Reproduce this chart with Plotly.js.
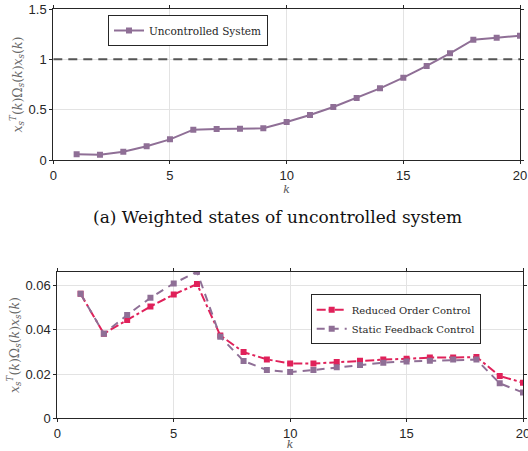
<!DOCTYPE html>
<html><head><meta charset="utf-8">
<script src="https://cdn.plot.ly/plotly-3.0.1.min.js"></script>
<style>html,body{margin:0;padding:0;background:#fff}#chart{width:528px;height:451px}</style>
</head><body><div id="chart"></div>
<script>
const k = [1,2,3,4,5,6,7,8,9,10,11,12,13,14,15,16,17,18,19,20];
const uncontrolled = [0.056,0.053,0.083,0.136,0.205,0.301,0.308,0.311,0.315,0.377,0.447,0.526,0.616,0.712,0.818,0.934,1.060,1.195,1.215,1.235];
const thresholdK = [0,20];
const thresholdV = [1,1];
const reducedOrder = [0.0562,0.0382,0.0444,0.0505,0.0559,0.0606,0.0374,0.0299,0.0266,0.0248,0.0247,0.0254,0.0260,0.0265,0.0269,0.0274,0.0274,0.0277,0.0191,0.0161];
const staticFeedback = [0.0562,0.0382,0.0466,0.0544,0.0609,0.0662,0.0368,0.0259,0.0218,0.0209,0.0218,0.0230,0.0241,0.0251,0.0257,0.0260,0.0265,0.0265,0.0158,0.0116];
const topTicks = [0,0.5,1,1.5];
const bottomTicks = [0,0.02,0.04,0.06];
const xTicks = [0,5,10,15,20];

const purple = '#8f6f96';
const red = '#e0215a';
const serif = 'DejaVu Serif';
const sans = 'Liberation Sans';
const ytitle = '<i>x</i><sub><i>s</i></sub><sup><i>T</i></sup>(<i>k</i>)Ω<sub><i>s</i></sub>(<i>k</i>)<i>x</i><sub><i>s</i></sub>(<i>k</i>)';

const W = 528, H = 451;
const px = v => v / W, py = v => 1 - v / H;

const traces = [
  {x: thresholdK, y: thresholdV, mode: 'lines', line: {color: '#555555', width: 2, dash: '9px,6px'}, showlegend: false, xaxis: 'x', yaxis: 'y', hoverinfo: 'skip'},
  {x: k, y: uncontrolled, name: 'Uncontrolled System', mode: 'lines+markers', line: {color: purple, width: 2}, marker: {symbol: 'square', size: 6, color: purple}, xaxis: 'x', yaxis: 'y', legend: 'legend'},
  {x: k, y: reducedOrder, name: 'Reduced Order Control', mode: 'lines+markers', line: {color: red, width: 2, dash: 'dashdot'}, marker: {symbol: 'square', size: 6, color: red}, xaxis: 'x2', yaxis: 'y2', legend: 'legend2'},
  {x: k, y: staticFeedback, name: 'Static Feedback Control', mode: 'lines+markers', line: {color: purple, width: 2, dash: '8px,6px'}, marker: {symbol: 'square', size: 6, color: purple}, xaxis: 'x2', yaxis: 'y2', legend: 'legend2'}
];

const axCommon = {
  showline: true, linecolor: '#262626', linewidth: 1, mirror: 'ticks',
  ticks: 'outside', ticklen: 3, tickcolor: '#262626',
  showgrid: true, gridcolor: '#e3e3e3', gridwidth: 1, zeroline: false,
  ticklabeloverflow: 'allow',
  tickfont: {family: sans, size: 13, color: '#262626'}
};

const layout = {
  width: W, height: H,
  margin: {l: 0, r: 0, t: 0, b: 0},
  paper_bgcolor: '#fff', plot_bgcolor: '#fff',
  showlegend: true,
  xaxis: Object.assign({}, axCommon, {domain: [px(53.3), px(520)], range: [0, 20], tickvals: xTicks, anchor: 'y',
    title: {text: '<i>k</i>', font: {family: serif, size: 11, color: '#555'}, standoff: 3}}),
  yaxis: Object.assign({}, axCommon, {domain: [py(160), py(9)], range: [0, 1.5], tickvals: topTicks, ticktext: ['0','0.5','1','1.5'], anchor: 'x',
    title: {text: ytitle, font: {family: serif, size: 12.5, color: '#666'}, standoff: 3}}),
  xaxis2: Object.assign({}, axCommon, {domain: [px(57.3), px(523)], range: [0, 20], tickvals: xTicks, anchor: 'y2',
    title: {text: '<i>k</i>', font: {family: serif, size: 11, color: '#555'}, standoff: 11}}),
  yaxis2: Object.assign({}, axCommon, {domain: [py(418.3), py(271.7)], range: [0, 0.0662], tickvals: bottomTicks, ticktext: ['0','0.02','0.04','0.06'], anchor: 'x2',
    title: {text: ytitle, font: {family: serif, size: 12.5, color: '#666'}, standoff: 3}}),
  legend: {x: px(108), y: py(15), xanchor: 'left', yanchor: 'top', bgcolor: '#fff', bordercolor: '#262626', borderwidth: 1,
    font: {family: serif, size: 10.5, color: '#262626'}, tracegroupgap: 0, itemwidth: 30},
  legend2: {x: px(310.7), y: py(294.3), xanchor: 'left', yanchor: 'top', bgcolor: '#fff', bordercolor: '#262626', borderwidth: 1,
    font: {family: serif, size: 10, color: '#262626'}, tracegroupgap: 0},
  annotations: [
    {text: '(a) Weighted states of uncontrolled system', x: px(277), y: py(216.7), xref: 'paper', yref: 'paper',
     xanchor: 'center', yanchor: 'middle', showarrow: false, font: {family: serif, size: 17, color: '#111'}}
  ]
};

Plotly.newPlot('chart', traces, layout, {displayModeBar: false, staticPlot: true});
</script></body></html>
